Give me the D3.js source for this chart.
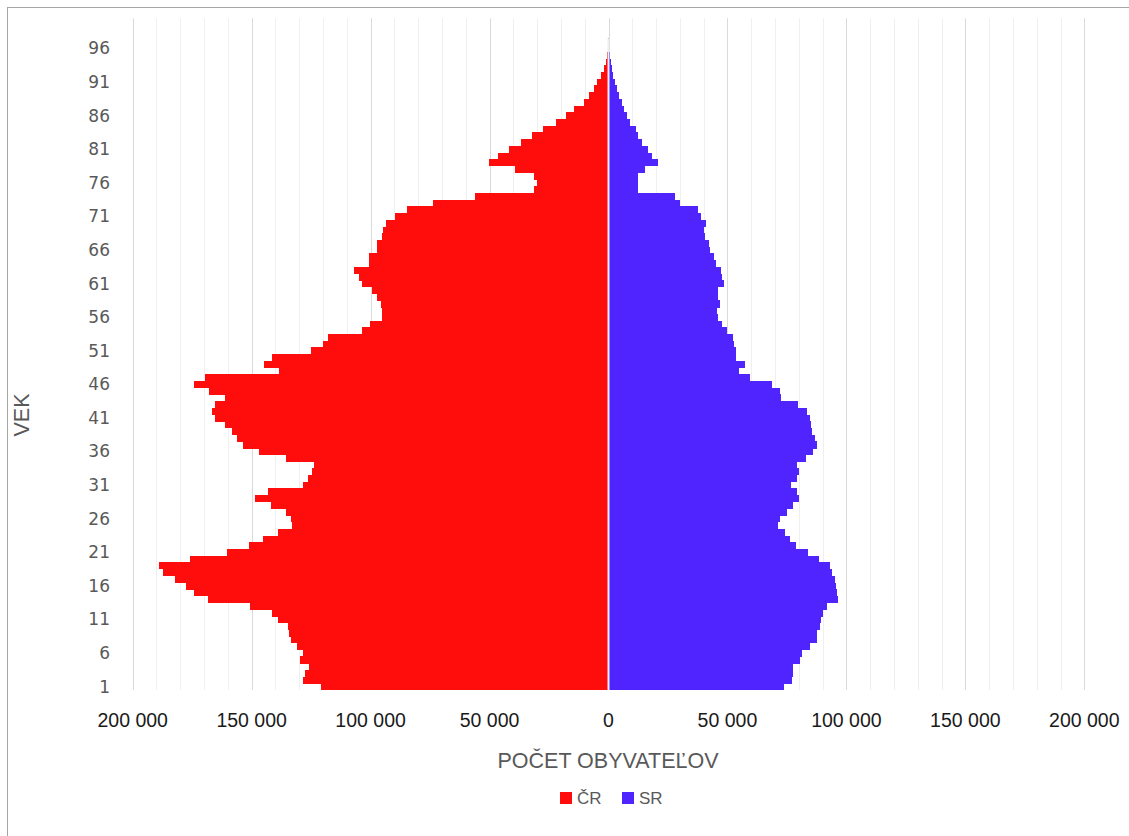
<!DOCTYPE html>
<html><head><meta charset="utf-8">
<script src="https://cdn.jsdelivr.net/npm/d3@7/dist/d3.min.js"></script>
<style>
html,body{margin:0;padding:0;background:#fff;}
svg{display:block;}
</style></head>
<body>
<svg id="chart" width="1129" height="836"></svg>
<script>
// Ages (categories) 1..100
const ages = d3.range(1, 101);
// Population of Czech Republic (ČR) by age, in thousands (ages 1..100)
const crValues = [
 120.7,128.4,127.7,125.9,129.8,128.4,130.8,133.3,134.2,134.7,
 138.8,141.3,150.9,168.4,174.3,177.5,182.4,187.1,188.8,176.1,
 160.3,151.2,145.3,138.9,132.9,133.3,135.7,141.7,148.5,143.2,
 128.4,126.3,124.8,123.9,135.4,147.1,153.5,156.3,158.2,161.0,
 165.2,166.7,165.2,161.0,168.1,174.4,169.8,138.5,144.7,141.3,
 124.9,120.0,118.0,103.8,100.3,95.4,95.2,95.8,97.3,99.4,
 103.8,104.8,107.1,100.8,100.8,97.1,97.1,95.4,94.7,93.7,
 89.8,84.6,73.7,56.2,31.2,29.9,31.4,39.3,50.1,46.6,
 41.7,36.8,32.0,27.6,22.1,17.9,14.4,10.5,8.3,6.3,
 4.8,3.2,1.9,1.1,0.7,0.4,0.2,0,0,0
];
// Population of Slovak Republic (SR) by age, in thousands (ages 1..100)
const srValues = [
 73.7,77.2,77.6,77.6,80.7,81.4,84.6,87.5,87.7,88.8,
 89.4,90.3,91.7,96.6,96.2,95.7,95.2,93.8,93.1,88.4,
 83.8,79.0,76.5,74.4,71.3,71.9,75.1,77.5,80.0,79.3,
 76.8,79.3,80.0,79.3,83.1,85.8,87.5,87.0,85.6,85.2,
 84.9,83.5,79.7,72.7,71.9,68.8,59.4,54.7,57.3,53.6,
 53.4,52.9,52.4,49.8,47.7,46.2,45.5,46.7,45.9,46.1,
 48.4,47.7,47.2,45.3,44.4,42.8,42.4,40.4,40.0,41.0,
 38.9,37.5,29.9,28.1,12.6,12.2,12.2,15.5,20.6,18.3,
 16.6,13.9,12.6,11.4,9.1,7.8,6.7,5.5,4.5,3.5,
 2.7,2.1,1.6,1.1,0.7,0.3,0.1,0,0,0
];
const seriesNames = ["ČR", "SR"];
const seriesColors = ["#FF0C0C", "#4F24FF"];
const xTicks = [-200000,-150000,-100000,-50000,0,50000,100000,150000,200000];
const yTickLabels = [1,6,11,16,21,26,31,36,41,46,51,56,61,66,71,76,81,86,91,96];
const xTitle = "POČET OBYVATEĽOV";
const yTitle = "VEK";

const svg = d3.select("#chart");
const plot = {left: 132.7, right: 1084.3, top: 18.3, bottom: 690};

// frame (right and bottom edges fall outside the picture, as in the original)
svg.append("rect").attr("x", 7.5).attr("y", 7.5).attr("width", 1130).attr("height", 840)
  .attr("fill", "#fff").attr("stroke", "#a6a6a6").attr("stroke-width", 1);

const x = d3.scaleLinear().domain([-200000, 200000]).range([plot.left, plot.right]);
const y = d3.scaleBand().domain(ages.slice().reverse()).range([plot.top, plot.bottom]).padding(0);

// gridlines
const grid = d3.range(-200000, 200001, 10000);
svg.append("g").selectAll("line").data(grid).join("line")
  .attr("x1", d => Math.round(x(d)) + 0.5).attr("x2", d => Math.round(x(d)) + 0.5)
  .attr("y1", plot.top).attr("y2", plot.bottom)
  .attr("stroke", d => (d % 50000 === 0) ? "#d9d9d9" : "#efefef")
  .attr("stroke-width", 1);

const x0 = x(0);
const data = ages.map((a, i) => ({age: a, cr: crValues[i] * 1000, sr: srValues[i] * 1000}));

// ČR bars (left)
svg.append("g").attr("shape-rendering", "crispEdges").selectAll("rect").data(data).join("rect")
  .attr("x", d => x(-d.cr)).attr("width", d => x0 - x(-d.cr))
  .attr("y", d => y(d.age)).attr("height", y.bandwidth() + 0.4)
  .attr("fill", seriesColors[0]);

// SR bars (right)
svg.append("g").attr("shape-rendering", "crispEdges").selectAll("rect").data(data).join("rect")
  .attr("x", x0).attr("width", d => x(d.sr) - x0)
  .attr("y", d => y(d.age)).attr("height", y.bandwidth() + 0.4)
  .attr("fill", seriesColors[1]);

// zero axis line
svg.append("line").attr("x1", x0).attr("x2", x0).attr("y1", plot.top + 20).attr("y2", plot.bottom)
  .attr("stroke", "#eeeeee").attr("stroke-width", 2);

// x tick labels
const fmt = v => d3.format(",")(Math.abs(v)).replace(/,/g, " ");
svg.append("g").selectAll("text").data(xTicks).join("text")
  .attr("x", d => x(d)).attr("y", 727)
  .attr("text-anchor", "middle")
  .attr("font-family", "'Liberation Sans', Arial, sans-serif")
  .attr("font-size", 19.5).attr("fill", "#1a1a1a")
  .text(fmt);

// y tick labels
svg.append("g").selectAll("text").data(yTickLabels).join("text")
  .attr("x", 110).attr("y", d => y(d) + y.bandwidth() / 2)
  .attr("dy", "0.35em")
  .attr("text-anchor", "end")
  .attr("font-family", "'DejaVu Sans', Verdana, sans-serif")
  .attr("font-size", 17).attr("fill", "#595959")
  .text(d => d);

// axis titles
svg.append("text").attr("x", 608).attr("y", 768).attr("text-anchor", "middle")
  .attr("font-family", "'Liberation Sans', sans-serif")
  .attr("font-size", 21.5).attr("fill", "#595959").text(xTitle);

svg.append("text").attr("transform", "translate(29,415) rotate(-90)").attr("text-anchor", "middle")
  .attr("font-family", "'Liberation Sans', sans-serif")
  .attr("font-size", 21.5).attr("fill", "#595959").text(yTitle);

// legend
const legend = svg.append("g");
const legItems = [{name: seriesNames[0], color: seriesColors[0], x: 560}, {name: seriesNames[1], color: seriesColors[1], x: 622}];
legItems.forEach(it => {
  legend.append("rect").attr("x", it.x).attr("y", 792).attr("width", 12).attr("height", 12).attr("fill", it.color);
  legend.append("text").attr("x", it.x + 17).attr("y", 804)
    .attr("font-family", "'Liberation Sans', sans-serif")
    .attr("font-size", 17).attr("fill", "#595959").text(it.name);
});
</script>
</body></html>
